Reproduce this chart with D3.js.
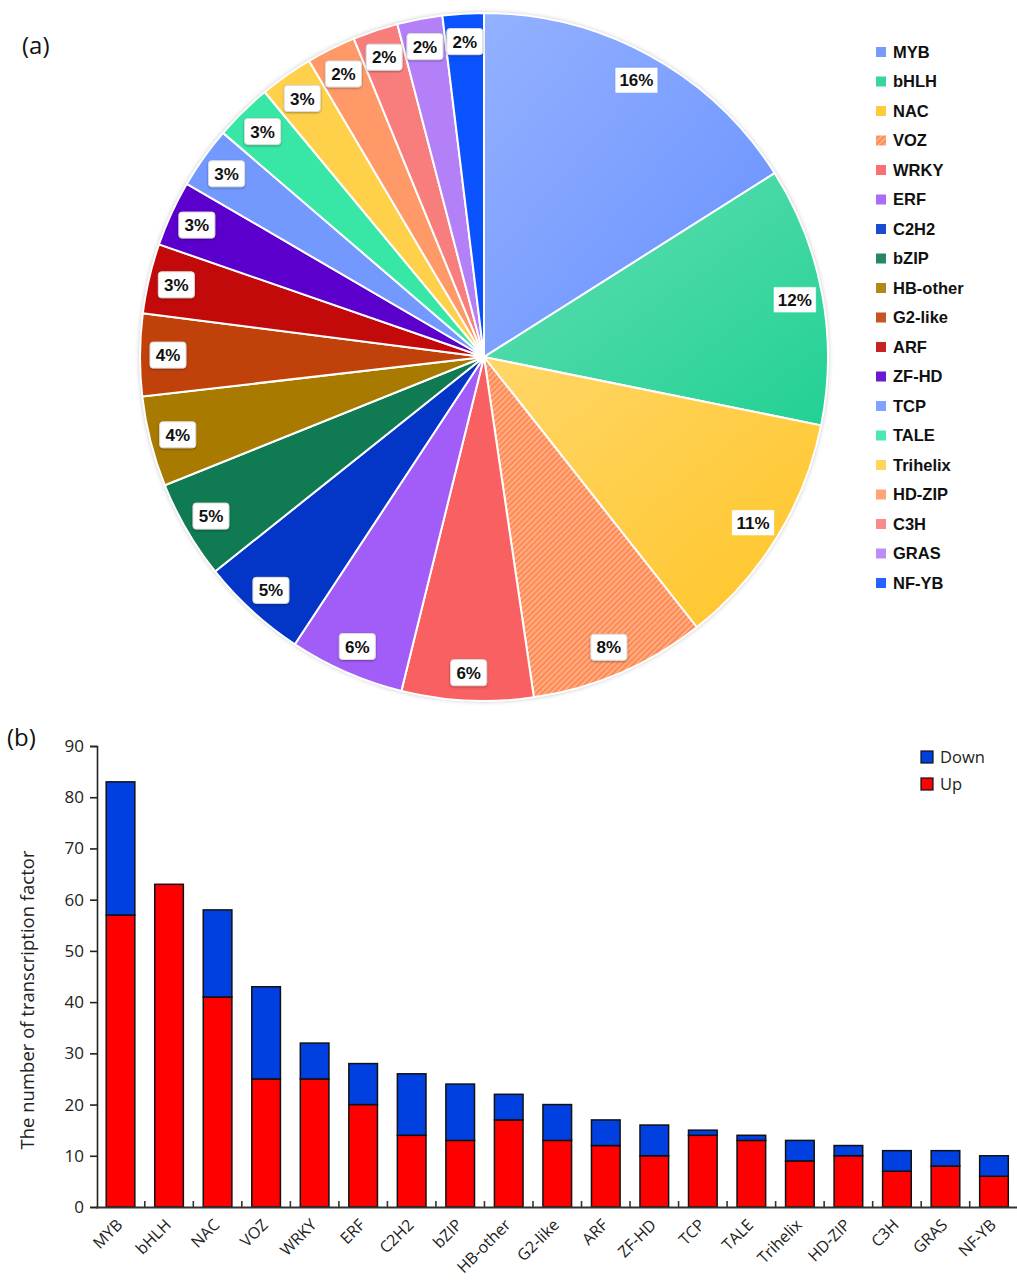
<!DOCTYPE html>
<html>
<head>
<meta charset="utf-8">
<script src="https://cdn.jsdelivr.net/npm/d3@7"></script>
<style>
  html, body { margin: 0; padding: 0; background: #fff; }
  svg { display: block; }
</style>
</head>
<body>
<svg id="chart" width="1017" height="1283"></svg>
<script>
// Transcription factor families and their up/down-regulated counts
const families = ["MYB", "bHLH", "NAC", "VOZ", "WRKY", "ERF", "C2H2", "bZIP", "HB-other", "G2-like",
                  "ARF", "ZF-HD", "TCP", "TALE", "Trihelix", "HD-ZIP", "C3H", "GRAS", "NF-YB"];
const upCounts   = [57, 63, 41, 25, 25, 20, 14, 13, 17, 13, 12, 10, 14, 13, 9, 10, 7, 8, 6];
const downCounts = [26, 0, 17, 18, 7, 8, 12, 11, 5, 7, 5, 6, 1, 1, 4, 2, 4, 3, 4];
const yTicks = [0, 10, 20, 30, 40, 50, 60, 70, 80, 90];
const seriesNames = ["Down", "Up"];

// Slice colours for the pie (family order)
const sliceColors = ["#6690ff", "#22d193", "#ffc527", "#ff8c55", "#f86062", "#a25cf8", "#0336c6",
                     "#107a52", "#a87b00", "#c0420a", "#c20a0a", "#5b00cc", "#7399ff", "#38e6a6",
                     "#ffd04a", "#ff9a68", "#f87e7e", "#b480f8", "#0b52ff"];
const shadedSlices = 3;      // the largest slices carry a soft highlight
const hatched = "VOZ";

const svg = d3.select("#chart");
const defs = svg.append("defs");

// soft shadow around the pie
const pieShadow = defs.append("filter").attr("id", "pieShadow")
  .attr("x", "-10%").attr("y", "-10%").attr("width", "120%").attr("height", "120%");
pieShadow.append("feDropShadow").attr("dx", 0).attr("dy", 0).attr("stdDeviation", 2.5)
  .attr("flood-color", "#000").attr("flood-opacity", 0.3);

const boxShadow = defs.append("filter").attr("id", "boxShadow")
  .attr("x", "-30%").attr("y", "-30%").attr("width", "160%").attr("height", "160%");
boxShadow.append("feDropShadow").attr("dx", 0).attr("dy", 1).attr("stdDeviation", 1.2)
  .attr("flood-color", "#000").attr("flood-opacity", 0.35);

// highlight gradients: lighter toward the upper-left
sliceColors.forEach((c, i) => {
  const g = defs.append("linearGradient").attr("id", "grad" + i)
    .attr("x1", "0%").attr("y1", "0%").attr("x2", "100%").attr("y2", "100%");
  const light = d3.interpolateRgb(c, "#ffffff")(0.3);
  g.append("stop").attr("offset", "0%").attr("stop-color", light);
  g.append("stop").attr("offset", "100%").attr("stop-color", c);
});

// diagonal stripes for the hatched family
const pat = defs.append("pattern").attr("id", "hatch")
  .attr("patternUnits", "userSpaceOnUse").attr("width", 4).attr("height", 4)
  .attr("patternTransform", "rotate(45)");
pat.append("rect").attr("width", 4).attr("height", 4).attr("fill", "#ff8a52");
pat.append("rect").attr("width", 1.6).attr("height", 4).attr("fill", "#ffb592");

function fillFor(i) {
  if (families[i] === hatched) return "url(#hatch)";
  return i < shadedSlices ? "url(#grad" + i + ")" : sliceColors[i];
}

// ---------- (a) pie chart ----------
const totals = families.map((f, i) => upCounts[i] + downCounts[i]);
const grand = d3.sum(totals);

// whole-number percentages that add up to 100 (largest remainder)
const raw = totals.map(t => t / grand * 100);
const pct = raw.map(Math.floor);
let short = 100 - d3.sum(pct);
raw.map((r, i) => ({ i, rem: r - Math.floor(r) }))
   .sort((a, b) => b.rem - a.rem)
   .slice(0, short).forEach(o => { pct[o.i] += 1; });

const cx = 484, cy = 357, R = 344;

const pie = d3.pie().sort(null).value(d => d.total);
const pieData = pie(families.map((f, i) => ({ name: f, total: totals[i], i })));
const arc = d3.arc().innerRadius(0).outerRadius(R);
const labelArc = d3.arc().innerRadius(316).outerRadius(316);

const gPie = svg.append("g").attr("transform", `translate(${cx},${cy})`);
gPie.append("circle").attr("r", R).attr("fill", "#fff").attr("filter", "url(#pieShadow)");
gPie.selectAll("path.slice").data(pieData).join("path")
  .attr("class", "slice")
  .attr("d", arc)
  .attr("fill", d => fillFor(d.data.i))
  .attr("stroke", "#fff").attr("stroke-width", 2).attr("stroke-linejoin", "round");

const lbl = gPie.selectAll("g.lbl").data(pieData).join("g")
  .attr("class", "lbl")
  .attr("transform", d => `translate(${labelArc.centroid(d)})`);
lbl.each(function (d) {
  const g = d3.select(this);
  const txt = pct[d.data.i] + "%";
  const w = txt.length === 3 ? 43 : 36;
  const big = d.data.i < shadedSlices;
  g.append("rect").attr("x", -w / 2).attr("y", -13).attr("width", w).attr("height", 26)
    .attr("rx", big ? 1 : 3).attr("fill", "#fff")
    .attr("stroke", big ? d3.color(sliceColors[d.data.i]).copy({ opacity: 0.7 }) : "#ddd")
    .attr("stroke-width", 1)
    .attr("filter", big ? null : "url(#boxShadow)");
  g.append("text").attr("text-anchor", "middle").attr("dy", "0.36em")
    .attr("font-family", "'Liberation Sans', Arial, sans-serif").attr("font-weight", "bold")
    .attr("font-size", 17).attr("fill", "#111").text(txt);
});

// pie legend
const legA = svg.append("g").attr("transform", "translate(876,52)");
const legRows = legA.selectAll("g").data(families).join("g")
  .attr("transform", (d, i) => `translate(0,${i * 29.5})`);
legRows.append("rect").attr("x", 0).attr("y", -5).attr("width", 10).attr("height", 10)
  .attr("fill", (d, i) => d === hatched ? "url(#hatch)" : d3.interpolateRgb(sliceColors[i], "#fff")(0.1));
legRows.append("text").attr("x", 17).attr("dy", "0.36em")
  .attr("font-family", "'Liberation Sans', Arial, sans-serif").attr("font-weight", "bold")
  .attr("font-size", 16.5).attr("fill", "#111").text(d => d);

svg.append("text").attr("x", 22).attr("y", 54)
  .attr("font-family", "'Open Sans', sans-serif").attr("font-size", 24).attr("fill", "#111").text("(a)");

// ---------- (b) stacked bar chart ----------
svg.append("text").attr("x", 7).attr("y", 746)
  .attr("font-family", "'Open Sans', sans-serif").attr("font-size", 24).attr("fill", "#111").text("(b)");

const x = d3.scaleBand().domain(families).range([96.5, 1018]).paddingInner(0.41).paddingOuter(0.2);
const y = d3.scaleLinear().domain([0, 90]).range([1207, 746]);

const stackRows = families.map((f, i) => ({ name: f, Up: upCounts[i], Down: downCounts[i] }));
const stacked = d3.stack().keys(["Up", "Down"])(stackRows);
const barColors = { Up: "#ff0000", Down: "#0040e0" };

const gBars = svg.append("g");
stacked.forEach(layer => {
  gBars.selectAll(null).data(layer.filter(d => d[1] > d[0])).join("rect")
    .attr("x", d => x(d.data.name))
    .attr("y", d => y(d[1]))
    .attr("width", x.bandwidth())
    .attr("height", d => y(d[0]) - y(d[1]))
    .attr("fill", barColors[layer.key])
    .attr("stroke", "#111").attr("stroke-width", 1.5);
});

// y axis
const yAxis = svg.append("g").attr("transform", "translate(97,0)")
  .call(d3.axisLeft(y).tickValues(yTicks).tickSize(7).tickPadding(6));
yAxis.select(".domain").attr("stroke", "#222").attr("stroke-width", 1.6);
yAxis.selectAll(".tick line").attr("stroke", "#222").attr("stroke-width", 1.6);
yAxis.selectAll(".tick text").attr("font-family", "'Open Sans', sans-serif")
  .attr("font-size", 17).attr("fill", "#222");

// x axis: ticks at band boundaries pointing up
const step = x.step();
const boundaries = d3.range(families.length).map(i => x(families[i]) - (step - x.bandwidth()) / 2);
const gx = svg.append("g");
gx.append("line").attr("x1", 96).attr("x2", 1017).attr("y1", 1207.5).attr("y2", 1207.5)
  .attr("stroke", "#333").attr("stroke-width", 2);
gx.selectAll("line.tk").data(boundaries.slice(1)).join("line").attr("class", "tk")
  .attr("x1", d => d).attr("x2", d => d).attr("y1", 1207).attr("y2", 1201)
  .attr("stroke", "#333").attr("stroke-width", 1.6);
gx.selectAll("text.xl").data(families).join("text").attr("class", "xl")
  .attr("transform", d => `translate(${x(d) + x.bandwidth() / 2 - 1},${1222}) rotate(-45)`)
  .attr("text-anchor", "end").attr("dy", "0.35em")
  .attr("font-family", "'Open Sans', sans-serif").attr("font-size", 16).attr("fill", "#222")
  .text(d => d);

// y-axis title
svg.append("text").attr("transform", "translate(34,1000) rotate(-90)")
  .attr("text-anchor", "middle")
  .attr("font-family", "'Open Sans', sans-serif").attr("font-size", 18.5).attr("fill", "#222")
  .text("The number of transcription factor");

// bar legend
const legB = svg.append("g").attr("transform", "translate(921,757)");
const lbRows = legB.selectAll("g").data(seriesNames).join("g")
  .attr("transform", (d, i) => `translate(0,${i * 27})`);
lbRows.append("rect").attr("x", 0).attr("y", -6).attr("width", 12).attr("height", 12)
  .attr("fill", d => barColors[d]).attr("stroke", "#111").attr("stroke-width", 1.2);
lbRows.append("text").attr("x", 19).attr("dy", "0.36em")
  .attr("font-family", "'Open Sans', sans-serif").attr("font-size", 16.5).attr("fill", "#222")
  .text(d => d);
</script>
</body>
</html>
